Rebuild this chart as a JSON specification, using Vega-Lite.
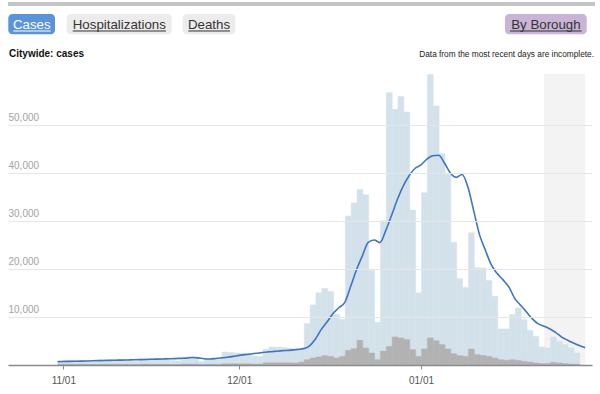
{
  "$schema": "https://vega.github.io/schema/vega-lite/v6.json",
  "width": 584,
  "height": 291,
  "autosize": {"type": "none"},
  "padding": {"left": 8, "top": 74, "right": 8, "bottom": 29},
  "background": "white",
  "config": {"view": {"stroke": null}, "font": "Liberation Sans", "text": {"font": "Liberation Sans"}, "axisX": {"grid": false}},
  "datasets": {
    "daily": [
      {"date": "2021-10-31", "cases": 900, "probable": 150, "avg": 690},
      {"date": "2021-11-01", "cases": 1000, "probable": 150, "avg": 720},
      {"date": "2021-11-02", "cases": 950, "probable": 150, "avg": 750},
      {"date": "2021-11-03", "cases": 1000, "probable": 150, "avg": 780},
      {"date": "2021-11-04", "cases": 950, "probable": 150, "avg": 810},
      {"date": "2021-11-05", "cases": 700, "probable": 100, "avg": 840},
      {"date": "2021-11-06", "cases": 650, "probable": 100, "avg": 870},
      {"date": "2021-11-07", "cases": 1100, "probable": 150, "avg": 900},
      {"date": "2021-11-08", "cases": 1150, "probable": 150, "avg": 930},
      {"date": "2021-11-09", "cases": 1100, "probable": 150, "avg": 960},
      {"date": "2021-11-10", "cases": 1150, "probable": 150, "avg": 990},
      {"date": "2021-11-11", "cases": 1050, "probable": 150, "avg": 1020},
      {"date": "2021-11-12", "cases": 800, "probable": 100, "avg": 1050},
      {"date": "2021-11-13", "cases": 750, "probable": 100, "avg": 1080},
      {"date": "2021-11-14", "cases": 1300, "probable": 150, "avg": 1110},
      {"date": "2021-11-15", "cases": 1350, "probable": 150, "avg": 1150},
      {"date": "2021-11-16", "cases": 1300, "probable": 150, "avg": 1190},
      {"date": "2021-11-17", "cases": 1350, "probable": 150, "avg": 1230},
      {"date": "2021-11-18", "cases": 1250, "probable": 150, "avg": 1260},
      {"date": "2021-11-19", "cases": 900, "probable": 100, "avg": 1290},
      {"date": "2021-11-20", "cases": 850, "probable": 100, "avg": 1330},
      {"date": "2021-11-21", "cases": 1500, "probable": 200, "avg": 1380},
      {"date": "2021-11-22", "cases": 1700, "probable": 200, "avg": 1430},
      {"date": "2021-11-23", "cases": 1650, "probable": 200, "avg": 1560},
      {"date": "2021-11-24", "cases": 750, "probable": 100, "avg": 1480},
      {"date": "2021-11-25", "cases": 1250, "probable": 150, "avg": 1300},
      {"date": "2021-11-26", "cases": 1250, "probable": 150, "avg": 1260},
      {"date": "2021-11-27", "cases": 1200, "probable": 150, "avg": 1350},
      {"date": "2021-11-28", "cases": 2700, "probable": 250, "avg": 1480},
      {"date": "2021-11-29", "cases": 2600, "probable": 250, "avg": 1620},
      {"date": "2021-11-30", "cases": 2500, "probable": 250, "avg": 1800},
      {"date": "2021-12-01", "cases": 2450, "probable": 250, "avg": 2000},
      {"date": "2021-12-02", "cases": 2300, "probable": 250, "avg": 2150},
      {"date": "2021-12-03", "cases": 1900, "probable": 200, "avg": 2300},
      {"date": "2021-12-04", "cases": 1800, "probable": 200, "avg": 2450},
      {"date": "2021-12-05", "cases": 3300, "probable": 450, "avg": 2600},
      {"date": "2021-12-06", "cases": 3750, "probable": 450, "avg": 2720},
      {"date": "2021-12-07", "cases": 3700, "probable": 450, "avg": 2830},
      {"date": "2021-12-08", "cases": 3600, "probable": 450, "avg": 2930},
      {"date": "2021-12-09", "cases": 3500, "probable": 450, "avg": 3020},
      {"date": "2021-12-10", "cases": 3300, "probable": 420, "avg": 3100},
      {"date": "2021-12-11", "cases": 3200, "probable": 620, "avg": 3250},
      {"date": "2021-12-12", "cases": 8600, "probable": 1100, "avg": 3400},
      {"date": "2021-12-13", "cases": 12500, "probable": 1460, "avg": 4000},
      {"date": "2021-12-14", "cases": 15000, "probable": 1670, "avg": 5400},
      {"date": "2021-12-15", "cases": 15900, "probable": 1940, "avg": 7400},
      {"date": "2021-12-16", "cases": 15300, "probable": 1790, "avg": 9000},
      {"date": "2021-12-17", "cases": 10500, "probable": 1460, "avg": 10700},
      {"date": "2021-12-18", "cases": 9500, "probable": 1790, "avg": 11900},
      {"date": "2021-12-19", "cases": 31000, "probable": 3040, "avg": 13000},
      {"date": "2021-12-20", "cases": 33700, "probable": 3390, "avg": 16300},
      {"date": "2021-12-21", "cases": 36500, "probable": 5130, "avg": 19800},
      {"date": "2021-12-22", "cases": 35400, "probable": 3540, "avg": 22700},
      {"date": "2021-12-23", "cases": 19700, "probable": 2500, "avg": 25500},
      {"date": "2021-12-24", "cases": 8900, "probable": 1100, "avg": 26000},
      {"date": "2021-12-25", "cases": 30000, "probable": 2900, "avg": 25450},
      {"date": "2021-12-26", "cases": 56600, "probable": 3870, "avg": 28000},
      {"date": "2021-12-27", "cases": 53150, "probable": 5830, "avg": 31200},
      {"date": "2021-12-28", "cases": 55800, "probable": 5620, "avg": 34500},
      {"date": "2021-12-29", "cases": 52600, "probable": 5270, "avg": 37300},
      {"date": "2021-12-30", "cases": 32200, "probable": 3190, "avg": 39400},
      {"date": "2021-12-31", "cases": 15000, "probable": 1790, "avg": 40900},
      {"date": "2022-01-01", "cases": 35800, "probable": 3330, "avg": 41600},
      {"date": "2022-01-02", "cases": 60400, "probable": 5620, "avg": 42800},
      {"date": "2022-01-03", "cases": 53850, "probable": 5060, "avg": 43500},
      {"date": "2022-01-04", "cases": 43900, "probable": 4230, "avg": 43600},
      {"date": "2022-01-05", "cases": 39600, "probable": 3330, "avg": 42000},
      {"date": "2022-01-06", "cases": 25500, "probable": 2350, "avg": 39900},
      {"date": "2022-01-07", "cases": 17950, "probable": 1940, "avg": 39000},
      {"date": "2022-01-08", "cases": 16150, "probable": 1790, "avg": 39600},
      {"date": "2022-01-09", "cases": 27500, "probable": 3330, "avg": 37000},
      {"date": "2022-01-10", "cases": 20200, "probable": 2140, "avg": 32000},
      {"date": "2022-01-11", "cases": 20150, "probable": 1990, "avg": 27000},
      {"date": "2022-01-12", "cases": 17550, "probable": 1790, "avg": 23800},
      {"date": "2022-01-13", "cases": 14300, "probable": 1460, "avg": 20800},
      {"date": "2022-01-14", "cases": 7500, "probable": 1100, "avg": 19000},
      {"date": "2022-01-15", "cases": 7500, "probable": 960, "avg": 17700},
      {"date": "2022-01-16", "cases": 10470, "probable": 1100, "avg": 16200},
      {"date": "2022-01-17", "cases": 11860, "probable": 960, "avg": 13800},
      {"date": "2022-01-18", "cases": 9430, "probable": 750, "avg": 12400},
      {"date": "2022-01-19", "cases": 7200, "probable": 620, "avg": 11000},
      {"date": "2022-01-20", "cases": 5950, "probable": 420, "avg": 9600},
      {"date": "2022-01-21", "cases": 3750, "probable": 280, "avg": 8550},
      {"date": "2022-01-22", "cases": 3540, "probable": 280, "avg": 8050},
      {"date": "2022-01-23", "cases": 5830, "probable": 550, "avg": 7500},
      {"date": "2022-01-24", "cases": 4910, "probable": 420, "avg": 6750},
      {"date": "2022-01-25", "cases": 4230, "probable": 280, "avg": 5800},
      {"date": "2022-01-26", "cases": 3540, "probable": 200, "avg": 5150},
      {"date": "2022-01-27", "cases": 2500, "probable": 140, "avg": 4580},
      {"date": "2022-01-28", "cases": null, "probable": null, "avg": 4050},
      {"date": "2022-01-29", "cases": null, "probable": null, "avg": 3580}
    ]
  },
  "layer": [
    {
      "data": {"values": [{"start": "2022-01-22", "end": "2022-01-29"}]},
      "mark": {"type": "rect", "color": "#f3f3f3"},
      "encoding": {
        "x": {"field": "start", "type": "temporal", "scale": {"type": "utc", "domain": [{"year": 2021, "month": 10, "date": 22, "hours": 13, "minutes": 41, "utc": true}, {"year": 2022, "month": 1, "date": 30, "hours": 3, "minutes": 50, "utc": true}]}},
        "x2": {"field": "end"}
      }
    },
    {
      "data": {"name": "daily"},
      "mark": {"type": "rect", "color": "#d3e2ea", "stroke": "#d3e2ea", "strokeWidth": 0.5},
      "encoding": {
        "x": {
          "field": "date", "timeUnit": "utcyearmonthdate", "type": "temporal",
          "axis": {
            "values": [{"year": 2021, "month": 11, "date": 1, "utc": true}, {"year": 2021, "month": 12, "date": 1, "utc": true}, {"year": 2022, "month": 1, "date": 1, "utc": true}],
            "labelExpr": "utcFormat(datum.value, '%m/%d')", "title": null, "grid": false,
            "domainColor": "#8a8a8a", "domainWidth": 1.5, "tickColor": "#8a8a8a", "tickSize": 4,
            "labelColor": "#555555", "labelFontSize": 10, "labelPadding": 6, "labelFont": "Liberation Sans", "zindex": 1
          }
        },
        "y": {
          "field": "cases", "type": "quantitative",
          "scale": {"domain": [0, 60500], "nice": false},
          "axis": {
            "values": [10000, 20000, 30000, 40000, 50000], "format": ",d", "title": null,
            "grid": true, "gridColor": "#e6e6e6", "domain": false, "ticks": false, "tickSize": 0,
            "labelAlign": "left", "labelBaseline": "alphabetic", "labelPadding": 0, "labelOffset": -4,
            "labelColor": "#a3a3a3", "labelFontSize": 10, "labelFont": "Liberation Sans", "zindex": 1
          }
        },
        "y2": {"datum": 0}
      }
    },
    {
      "data": {"name": "daily"},
      "mark": {"type": "rect", "color": "#b2b2b2", "stroke": "#b2b2b2", "strokeWidth": 0.5},
      "encoding": {
        "x": {"field": "date", "timeUnit": "utcyearmonthdate", "type": "temporal"},
        "y": {"field": "probable", "type": "quantitative"},
        "y2": {"datum": 0}
      }
    },
    {
      "data": {"name": "daily"},
      "mark": {"type": "line", "color": "#3d74c6", "strokeWidth": 1.6, "interpolate": "monotone"},
      "encoding": {
        "x": {"field": "date", "type": "temporal"},
        "y": {"field": "avg", "type": "quantitative"}
      }
    },
    {
      "data": {"values": [{}]},
      "mark": {"type": "rect", "color": "#c4c4c4"},
      "encoding": {
        "x": {"datum": {"year": 2021, "month": 10, "date": 22, "hours": 13, "minutes": 41, "utc": true}, "type": "temporal"},
        "x2": {"datum": {"year": 2022, "month": 1, "date": 30, "hours": 16, "minutes": 5, "utc": true}},
        "y": {"datum": 75468, "type": "quantitative"},
        "y2": {"datum": 74636}
      }
    },
    {
      "data": {"values": [{}]},
      "mark": {"type": "rect", "color": "#5b93da", "cornerRadius": 4},
      "encoding": {
        "x": {"datum": {"year": 2021, "month": 10, "date": 22, "hours": 14, "minutes": 54, "utc": true}, "type": "temporal"},
        "x2": {"datum": {"year": 2021, "month": 10, "date": 30, "hours": 14, "minutes": 2, "utc": true}},
        "y": {"datum": 72974, "type": "quantitative"},
        "y2": {"datum": 68754}
      }
    },
    {
      "data": {"values": [{}]},
      "mark": {"type": "rect", "color": "#ececec", "cornerRadius": 4},
      "encoding": {
        "x": {"datum": {"year": 2021, "month": 11, "date": 1, "hours": 13, "minutes": 55, "utc": true}, "type": "temporal"},
        "x2": {"datum": {"year": 2021, "month": 11, "date": 19, "hours": 11, "minutes": 40, "utc": true}},
        "y": {"datum": 72974, "type": "quantitative"},
        "y2": {"datum": 68754}
      }
    },
    {
      "data": {"values": [{}]},
      "mark": {"type": "rect", "color": "#ececec", "cornerRadius": 4},
      "encoding": {
        "x": {"datum": {"year": 2021, "month": 11, "date": 21, "hours": 8, "minutes": 40, "utc": true}, "type": "temporal"},
        "x2": {"datum": {"year": 2021, "month": 11, "date": 30, "hours": 7, "minutes": 58, "utc": true}},
        "y": {"datum": 72974, "type": "quantitative"},
        "y2": {"datum": 68754}
      }
    },
    {
      "data": {"values": [{}]},
      "mark": {"type": "rect", "color": "#c9b3d7", "cornerRadius": 4},
      "encoding": {
        "x": {"datum": {"year": 2022, "month": 1, "date": 15, "hours": 7, "minutes": 47, "utc": true}, "type": "temporal"},
        "x2": {"datum": {"year": 2022, "month": 1, "date": 29, "hours": 6, "minutes": 10, "utc": true}},
        "y": {"datum": 72974, "type": "quantitative"},
        "y2": {"datum": 68754}
      }
    },
    {
      "data": {"values": [{}]},
      "mark": {"type": "text", "text": "Cases", "color": "white", "fontSize": 13.3, "align": "center", "baseline": "alphabetic"},
      "encoding": {
        "x": {"datum": {"year": 2021, "month": 10, "date": 26, "hours": 15, "minutes": 4, "utc": true}, "type": "temporal"},
        "y": {"datum": 69752, "type": "quantitative"}
      }
    },
    {
      "data": {"values": [{}]},
      "mark": {"type": "text", "text": "Hospitalizations", "color": "#333333", "fontSize": 13.3, "align": "center", "baseline": "alphabetic"},
      "encoding": {
        "x": {"datum": {"year": 2021, "month": 11, "date": 10, "hours": 13, "minutes": 12, "utc": true}, "type": "temporal"},
        "y": {"datum": 69752, "type": "quantitative"}
      }
    },
    {
      "data": {"values": [{}]},
      "mark": {"type": "text", "text": "Deaths", "color": "#333333", "fontSize": 13.3, "align": "center", "baseline": "alphabetic"},
      "encoding": {
        "x": {"datum": {"year": 2021, "month": 11, "date": 25, "hours": 20, "minutes": 20, "utc": true}, "type": "temporal"},
        "y": {"datum": 69752, "type": "quantitative"}
      }
    },
    {
      "data": {"values": [{}]},
      "mark": {"type": "text", "text": "By Borough", "color": "#333333", "fontSize": 13.3, "align": "center", "baseline": "alphabetic"},
      "encoding": {
        "x": {"datum": {"year": 2022, "month": 1, "date": 22, "hours": 7, "minutes": 11, "utc": true}, "type": "temporal"},
        "y": {"datum": 69752, "type": "quantitative"}
      }
    },
    {
      "data": {"values": [{}]},
      "mark": {"type": "rule", "color": "white", "strokeWidth": 1},
      "encoding": {
        "x": {"datum": {"year": 2021, "month": 10, "date": 23, "hours": 11, "minutes": 21, "utc": true}, "type": "temporal"},
        "x2": {"datum": {"year": 2021, "month": 10, "date": 29, "hours": 20, "minutes": 25, "utc": true}},
        "y": {"datum": 69440, "type": "quantitative"}
      }
    },
    {
      "data": {"values": [{}]},
      "mark": {"type": "rule", "color": "#333333", "strokeWidth": 1},
      "encoding": {
        "x": {"datum": {"year": 2021, "month": 11, "date": 2, "hours": 14, "minutes": 28, "utc": true}, "type": "temporal"},
        "x2": {"datum": {"year": 2021, "month": 11, "date": 18, "hours": 12, "minutes": 20, "utc": true}},
        "y": {"datum": 69440, "type": "quantitative"}
      }
    },
    {
      "data": {"values": [{}]},
      "mark": {"type": "rule", "color": "#333333", "strokeWidth": 1},
      "encoding": {
        "x": {"datum": {"year": 2021, "month": 11, "date": 22, "hours": 7, "minutes": 36, "utc": true}, "type": "temporal"},
        "x2": {"datum": {"year": 2021, "month": 11, "date": 29, "hours": 10, "minutes": 16, "utc": true}},
        "y": {"datum": 69440, "type": "quantitative"}
      }
    },
    {
      "data": {"values": [{}]},
      "mark": {"type": "rule", "color": "#333333", "strokeWidth": 1},
      "encoding": {
        "x": {"datum": {"year": 2022, "month": 1, "date": 16, "hours": 4, "minutes": 15, "utc": true}, "type": "temporal"},
        "x2": {"datum": {"year": 2022, "month": 1, "date": 28, "hours": 9, "minutes": 42, "utc": true}},
        "y": {"datum": 69440, "type": "quantitative"}
      }
    },
    {
      "data": {"values": [{}]},
      "mark": {"type": "text", "text": "Citywide: cases", "color": "#111111", "fontSize": 10, "fontWeight": "bold", "align": "left", "baseline": "alphabetic"},
      "encoding": {
        "x": {"datum": {"year": 2021, "month": 10, "date": 22, "hours": 17, "minutes": 46, "utc": true}, "type": "temporal"},
        "y": {"datum": 64138, "type": "quantitative"}
      }
    },
    {
      "data": {"values": [{}]},
      "mark": {"type": "text", "text": "Data from the most recent days are incomplete.", "color": "#222222", "fontSize": 8.3, "align": "right", "baseline": "alphabetic"},
      "encoding": {
        "x": {"datum": {"year": 2022, "month": 1, "date": 30, "hours": 12, "minutes": 0, "utc": true}, "type": "temporal"},
        "y": {"datum": 64138, "type": "quantitative"}
      }
    }
  ]
}
